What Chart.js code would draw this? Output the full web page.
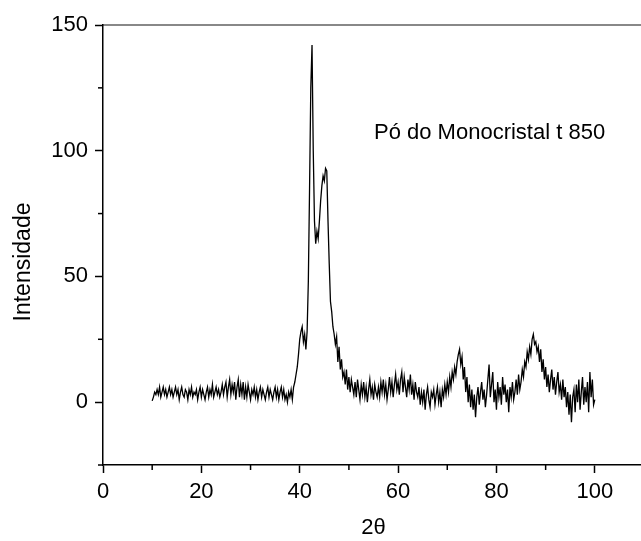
<!DOCTYPE html>
<html>
<head>
<meta charset="utf-8">
<script src="https://cdn.jsdelivr.net/npm/chart.js@4/dist/chart.umd.min.js"></script>
<style>
    html, body { margin: 0; padding: 0; background: #fff; overflow: hidden; }
    canvas { display: block; }
</style>
</head>
<body>
<canvas id="xrdChart" width="650" height="541"></canvas>
<script>
// 2theta sampling grid of the scan
const thetaStart = 10;
const thetaStep = 0.25;

// intensity, one value per step from 10 to 100
const intensity = [
    0.5, 2, 4, 3,   5, 3, 6, 2,   4, 6, 3, 5,   2, 4, 6, 3,   5, 2, 4, 6,      // 10-14
    3, 5, 1, 4,     6, 3, 2, 5,   4, 1, 5, 3,   6, 2, 4, 3,   5, 1, 4, 6,      // 15-19
    2, 5, 3, 1,     4, 6, 2, 5,   3, 7, 2, 4,   6, 3, 5, 2,   4, 7, 3, 6,      // 20-24
    8, 2, 6, 9,     3, 7, 4, 8,   1, 6, 9, 2,   7, 3, 8, 1,   6, 2, 7, 4,      // 25-29
    1, 5, 3, 6,     2, 5, 1, 4,   6, 2, 5, 3,   1, 4, 6, 2,   5, 3, 1, 4,      // 30-34
    6, 2, 5, 1,     4, 6, 2, 5,   1, 3, 0, 4,   2, 5, 1, 6,   8, 11, 14, 19,   // 35-39
    25, 28, 30, 24, 27, 21, 28, 48, 85, 125, 142, 100, 72, 63, 68, 65, 72, 80, 86, 90, // 40-44
    88, 93, 92, 72, 55, 40, 36, 30, 27, 23, 26, 16, 22, 13, 17, 10, 12, 7, 13, 5,     // 45-49
    10, 4, 9, 6,    3, 8, 2, 9,   5, 1, 7, 3,   8, 2, 6, 0,   5, 9, 3, 6,      // 50-54
    1, 7, 4, 2,     6, 2, 8, 4,   9, 3, 7, 1,   5, 10, 4, 8,  2, 7, 11, 5,     // 55-59
    8, 3, 9, 12,    4, 10, 6, 2,  9, 5, 11, 3,  7, 1, 8, 4,   2, 6, -1, 4,     // 60-64
    0, 5, -3, 3,    6, 1, -2, 4,  2, 5, -1, 3,  6, 0, 4, -2,  5, 2, 7, 3,      // 65-69
    8, 4, 10, 6,    12, 9, 14, 11, 16, 19, 21, 15, 18, 9, 14, 4, 10, 0, 7, -2, // 70-74
    5, -3, 3, -6,   2, 6, -1, 4,  8, 1, 5, -2,  3, 9, 15, 2,  7, 12, 0, 5,     // 75-79
    -3, 8, 2, 6,    -1, 10, 3, 7, 0, 5, -4, 6,  2, 8, 1, 4,   9, 3, 11, 5,     // 80-84
    8, 13, 10, 16,  14, 20, 17, 22, 19, 25, 27, 23, 24, 20, 22, 16, 21, 12, 17, 9, // 85-89
    14, 6, 11, 4,   9, 13, 5, 10, 3, 8, 12, 4,  7, 1, 9, 2,   6, -2, 4, -5,    // 90-94
    3, -8, 2, 5,    -4, 7, 0, 9,  -3, 4, 10, -1, 6, 0, 8, -4, 12, 2, 9, -1,    // 95-99
    1                                                                          // 100
];

// axis ticks
const xLabelTicks = [0, 20, 40, 60, 80, 100];
const yLabelTicks = [0, 50, 100, 150];

const sampleName = 'Pó do Monocristal t 850';

const points = intensity.map((v, i) => ({ x: thetaStart + i * thetaStep, y: v }));

const fontFamily = '"Liberation Sans", Arial, sans-serif';

// minor ticks are shorter, draw them by hand from the scales
const minorTicks = {
    id: 'minorTicks',
    afterDraw(chart) {
        const ctx = chart.ctx;
        const xs = chart.scales.x;
        const ys = chart.scales.y;
        ctx.save();
        ctx.strokeStyle = '#000';
        ctx.lineWidth = 1.5;
        xs.ticks.forEach(t => {
            if (xLabelTicks.includes(t.value)) return;
            const px = xs.getPixelForValue(t.value);
            ctx.beginPath();
            ctx.moveTo(px, xs.top);
            ctx.lineTo(px, xs.top + 5);
            ctx.stroke();
        });
        ys.ticks.forEach(t => {
            if (yLabelTicks.includes(t.value)) return;
            const py = ys.getPixelForValue(t.value);
            ctx.beginPath();
            ctx.moveTo(ys.right, py);
            ctx.lineTo(ys.right - 5, py);
            ctx.stroke();
        });

        // sample label and y title
        ctx.fillStyle = '#000';
        ctx.font = '22px ' + fontFamily;
        ctx.textAlign = 'left';
        ctx.textBaseline = 'alphabetic';
        ctx.fillText(sampleName, xs.getPixelForValue(55.1), ys.getPixelForValue(104.6));

        ctx.font = '23px ' + fontFamily;
        ctx.translate(24, 262);
        ctx.rotate(-Math.PI / 2);
        ctx.textAlign = 'center';
        ctx.textBaseline = 'middle';
        ctx.fillText('Intensidade', 0, 0);
        ctx.restore();
    }
};

const ctx = document.getElementById('xrdChart').getContext('2d');
const chart = new Chart(ctx, {
    type: 'line',
    data: {
        datasets: [{
            data: points,
            borderColor: '#000',
            borderWidth: 1.3,
            pointRadius: 0,
            tension: 0
        }]
    },
    options: {
        responsive: false,
        animation: false,
        devicePixelRatio: 1,
        layout: { padding: 0 },
        plugins: {
            legend: { display: false },
            tooltip: { enabled: false }
        },
        scales: {
            x: {
                type: 'linear',
                position: 'bottom',
                min: 0,
                max: 110,
                afterFit: s => { s.height = 76; },
                ticks: {
                    stepSize: 10,
                    autoSkip: false,
                    maxRotation: 0,
                    padding: 6,
                    color: '#000',
                    font: { size: 22, family: fontFamily },
                    callback: v => xLabelTicks.includes(v) ? v : ''
                },
                grid: {
                    drawOnChartArea: false,
                    tickLength: 8,
                    tickWidth: 1.5,
                    tickColor: c => xLabelTicks.includes(c.tick.value) ? '#000' : 'rgba(0,0,0,0)'
                },
                border: { color: '#000', width: 1.5 },
                title: {
                    display: true,
                    text: '2θ',
                    color: '#000',
                    padding: { top: 0, bottom: 0 },
                    font: { size: 22, family: fontFamily }
                }
            },
            xTop: {
                type: 'linear',
                position: 'top',
                min: 0,
                max: 110,
                afterFit: s => { s.height = 25; },
                ticks: { display: false },
                grid: { drawOnChartArea: false, drawTicks: false },
                border: { color: '#888', width: 2 }
            },
            y: {
                min: -25,
                max: 150,
                afterFit: s => { s.width = 103; },
                ticks: {
                    stepSize: 25,
                    autoSkip: false,
                    padding: 7,
                    color: '#000',
                    font: { size: 22, family: fontFamily },
                    callback: v => yLabelTicks.includes(v) ? v : ''
                },
                grid: {
                    drawOnChartArea: false,
                    tickLength: 8,
                    tickWidth: 1.5,
                    tickColor: c => yLabelTicks.includes(c.tick.value) ? '#000' : 'rgba(0,0,0,0)'
                },
                border: { color: '#000', width: 1.5 }
            }
        }
    },
    plugins: [minorTicks]
});
</script>
</body>
</html>
